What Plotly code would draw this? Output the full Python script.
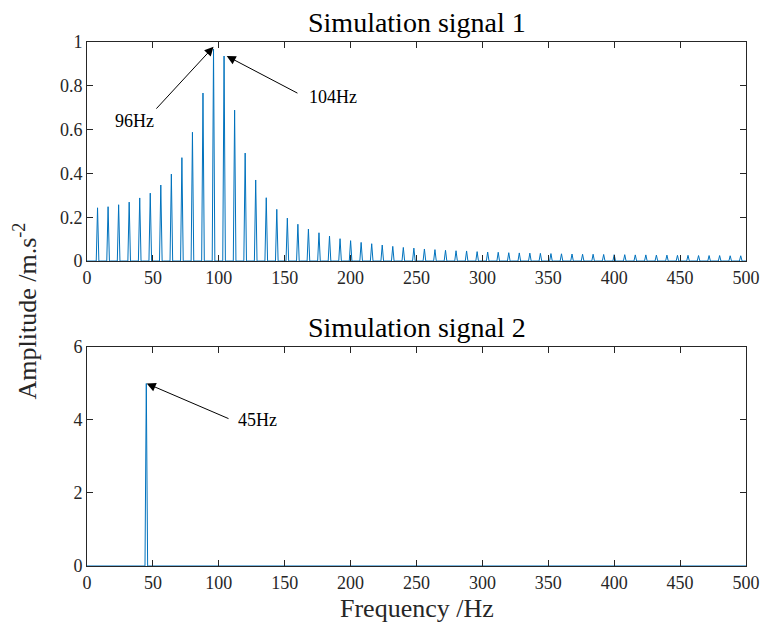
import numpy as np
import plotly.graph_objects as go

# ---- data -------------------------------------------------------------
# Signal 1: harmonic family spaced 8 Hz apart, amplitude in m/s^2
peak_freqs_1 = list(range(8, 497, 8))
peak_amps_1 = [
    0.243, 0.248, 0.257, 0.269, 0.288, 0.310, 0.347, 0.397, 0.472, 0.588,
    0.767, 0.968, 0.936, 0.689, 0.493, 0.370, 0.289, 0.236, 0.196, 0.168,
    0.146, 0.129, 0.114, 0.102, 0.093, 0.085, 0.079, 0.073, 0.067, 0.062,
    0.059, 0.055, 0.052, 0.049, 0.047, 0.046, 0.043, 0.041, 0.040, 0.038,
    0.037, 0.036, 0.035, 0.034, 0.033, 0.032, 0.031, 0.031, 0.030, 0.029,
    0.029, 0.028, 0.028, 0.027, 0.027, 0.026, 0.026, 0.025, 0.025, 0.025,
    0.024, 0.024,
]

# Signal 2: single tone
peak_freqs_2 = [45]
peak_amps_2 = [5.0]

x_ticks = [0, 50, 100, 150, 200, 250, 300, 350, 400, 450, 500]
y_ticks_1 = [0, 0.2, 0.4, 0.6, 0.8, 1]
y_ticks_1_text = ["0", "0.2", "0.4", "0.6", "0.8", "1"]
y_ticks_2 = [0, 2, 4, 6]

# ---- spectra on a 1 Hz grid -------------------------------------------
freq = np.arange(0, 501)
spec_1 = np.zeros(freq.size)
spec_1[peak_freqs_1] = peak_amps_1
spec_2 = np.zeros(freq.size)
spec_2[peak_freqs_2] = peak_amps_2

LINE = "#0072BD"
AX = "#262626"
FONT = "Liberation Serif"

fig = go.Figure()
fig.add_trace(go.Scatter(x=freq, y=spec_1, mode="lines",
                         line=dict(color=LINE, width=1), xaxis="x", yaxis="y",
                         showlegend=False, hoverinfo="x+y"))
fig.add_trace(go.Scatter(x=freq, y=spec_2, mode="lines",
                         line=dict(color=LINE, width=1), xaxis="x2", yaxis="y2",
                         showlegend=False, hoverinfo="x+y"))

axis_common = dict(showgrid=False, zeroline=False, showline=True,
                   linecolor=AX, linewidth=1, mirror="allticks",
                   ticks="inside", ticklen=6, tickwidth=1, tickcolor=AX,
                   automargin=False,
                   tickfont=dict(family=FONT, size=18, color=AX))

fig.update_layout(
    width=762, height=623,
    margin=dict(l=87, r=16, t=42, b=57, autoexpand=False),
    plot_bgcolor="white", paper_bgcolor="white",
    xaxis=dict(domain=[0, 1], anchor="y", range=[0, 500],
               tickvals=x_ticks, **axis_common),
    yaxis=dict(domain=[0.582, 1], anchor="x", range=[0, 1],
               tickvals=y_ticks_1, ticktext=y_ticks_1_text, **axis_common),
    xaxis2=dict(domain=[0, 1], anchor="y2", range=[0, 500],
                tickvals=x_ticks, **axis_common),
    yaxis2=dict(domain=[0, 0.418], anchor="x2", range=[0, 6],
                tickvals=y_ticks_2, **axis_common),
)

annotations = [
    # subplot titles
    dict(text="Simulation signal 1", x=0.5, y=1.0, xref="paper", yref="paper",
         xanchor="center", yanchor="bottom", yshift=2, showarrow=False,
         font=dict(family=FONT, size=28, color="black")),
    dict(text="Simulation signal 2", x=0.5, y=0.418, xref="paper", yref="paper",
         xanchor="center", yanchor="bottom", yshift=2, showarrow=False,
         font=dict(family=FONT, size=28, color="black")),
    # shared axis labels
    dict(text="Frequency /Hz", x=0.5, y=0, xref="paper", yref="paper",
         xanchor="center", yanchor="top", yshift=-26, showarrow=False,
         font=dict(family=FONT, size=26, color=AX)),
    dict(text="Amplitude /m.s<sup>-2</sup>", x=-0.093, y=0.487,
         xref="paper", yref="paper", xanchor="center", yanchor="middle",
         textangle=-90, showarrow=False,
         font=dict(family=FONT, size=26, color=AX)),
    # peak callouts
    dict(text="", x=96, y=0.978, ax=51.6, ay=0.689, xref="x", yref="y",
         axref="x", ayref="y", showarrow=True, arrowhead=2, arrowsize=1.8,
         arrowwidth=1, arrowcolor="black"),
    dict(text="96Hz", x=35.7, y=0.639, xref="x", yref="y", showarrow=False,
         font=dict(family=FONT, size=18, color="black")),
    dict(text="", x=106, y=0.936, ax=160.8, ay=0.763, xref="x", yref="y",
         axref="x", ayref="y", showarrow=True, arrowhead=2, arrowsize=1.8,
         arrowwidth=1, arrowcolor="black"),
    dict(text="104Hz", x=186.3, y=0.749, xref="x", yref="y", showarrow=False,
         font=dict(family=FONT, size=18, color="black")),
    dict(text="", x=45.3, y=5.0, ax=108.5, ay=4.02, xref="x2", yref="y2",
         axref="x2", ayref="y2", showarrow=True, arrowhead=2, arrowsize=1.8,
         arrowwidth=1, arrowcolor="black"),
    dict(text="45Hz", x=129, y=4.0, xref="x2", yref="y2", showarrow=False,
         font=dict(family=FONT, size=18, color="black")),
]
fig.update_layout(annotations=annotations)

fig.write_html("out.html")
